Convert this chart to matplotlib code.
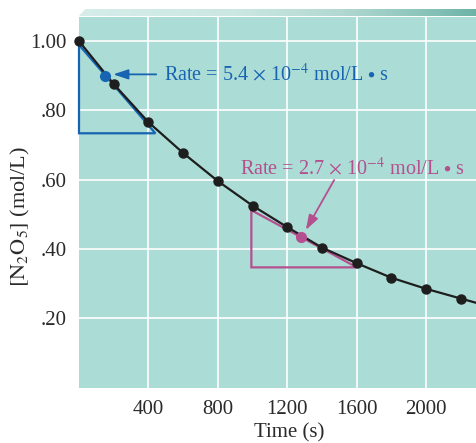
import numpy as np
import matplotlib
matplotlib.use("Agg")
import matplotlib.pyplot as plt
from matplotlib.colors import LinearSegmentedColormap
from matplotlib.patches import Polygon

plt.rcParams['font.family'] = ['Liberation Serif', 'DejaVu Serif']
plt.rcParams['mathtext.fontset'] = 'stix'

# ---- data ----
time_s = [0, 200, 400, 600, 800, 1000, 1200, 1400, 1600, 1800, 2000, 2200]
conc = [1.00, 0.876, 0.766, 0.677, 0.596, 0.525, 0.463, 0.404, 0.359, 0.317, 0.285, 0.257]
curve_end_t = 2300
curve_end_c = 0.243

x_ticks = [400, 800, 1200, 1600, 2000]
x_ticklabels = ['400', '800', '1200', '1600', '2000']
y_ticks = [0.20, 0.40, 0.60, 0.80, 1.00]
y_ticklabels = ['.20', '.40', '.60', '.80', '1.00']

# tangent 1 (blue)
tan1_point = (148, 0.900)
tan1_top = (0, 0.989)
tan1_right = (440, 0.734)
rate1_label = r'Rate = 5.4 $\times$ 10$^{-4}$ mol/L $\bullet$ s'
# tangent 2 (magenta)
tan2_point = (1281, 0.434)
tan2_top = (993, 0.512)
tan2_right = (1601, 0.347)
rate2_label = r'Rate = 2.7 $\times$ 10$^{-4}$ mol/L $\bullet$ s'

BLUE = '#1765b2'
MAG = '#b4508e'
TEAL = '#acdcd6'
TXT = '#2a2a2a'

fig = plt.figure(figsize=(4.77, 4.43), dpi=100)
ax = fig.add_axes([79/477, 1-387.6/443, 1-79/477, (387.6-17)/443])
ax.set_facecolor(TEAL)
ax.set_xlim(0, 2293)
ax.set_ylim(0, 1.0696)
for s in ax.spines.values():
    s.set_visible(False)
ax.set_xticks(x_ticks)
ax.set_xticklabels(x_ticklabels)
ax.set_yticks(y_ticks)
ax.set_yticklabels(y_ticklabels)
ax.tick_params(length=0, labelsize=15, colors=TXT, pad=9)
ax.tick_params(axis='x', pad=9)
ax.grid(True, color='white', linewidth=1.2)
ax.set_axisbelow(True)

# blue triangle
ax.plot([tan1_top[0], tan1_top[0], tan1_right[0], tan1_top[0]],
        [tan1_top[1], tan1_right[1], tan1_right[1], tan1_top[1]],
        color=BLUE, lw=1.6, zorder=3, solid_joinstyle='miter', clip_on=False)
# magenta triangle
ax.plot([tan2_top[0], tan2_top[0], tan2_right[0], tan2_top[0]],
        [tan2_top[1], tan2_right[1], tan2_right[1], tan2_top[1]],
        color=MAG, lw=1.6, zorder=3, solid_joinstyle='miter')

# curve
ax.plot(time_s + [curve_end_t], conc + [curve_end_c], color='#1e1e1e', lw=1.6, zorder=4,
        clip_on=True)
ax.plot(time_s, conc, 'o', color='#1e1e1e', ms=6.5, zorder=5, clip_on=False)

ax.plot(*tan1_point, 'o', color=BLUE, ms=7, zorder=6)
ax.plot(*tan2_point, 'o', color=MAG, ms=7, zorder=6)

# annotations
ax.annotate('', xy=(197, 0.904), xytext=(445, 0.904),
            arrowprops=dict(arrowstyle='-|>,head_length=0.9,head_width=0.3',
                            color=BLUE, lw=1.3, shrinkA=0, shrinkB=0), zorder=7)
ax.text(492, 0.885, rate1_label, color=BLUE, fontsize=14.5, va='baseline', ha='left')

ax.annotate('', xy=(1307, 0.455), xytext=(1470, 0.599),
            arrowprops=dict(arrowstyle='-|>,head_length=0.9,head_width=0.3',
                            color=MAG, lw=1.3, shrinkA=0, shrinkB=0), zorder=7)
ax.text(929, 0.6136, rate2_label, color=MAG, fontsize=14.5, va='baseline', ha='left')

ax.set_xlabel('Time (s)', fontsize=15, color=TXT)
ax.xaxis.set_label_coords(0.528, -0.097)
ax.set_ylabel(r'$\left[\mathrm{N_2O_5}\right]$ (mol/L)', fontsize=16, color=TXT)
ax.yaxis.set_label_coords(-0.118, 0.463)

# top gradient band
bax = fig.add_axes([79/477, 1-16/443, 1-79/477, 7/443])
bax.set_xlim(0, 1)
bax.set_ylim(0, 1)
bax.axis('off')
cmap = LinearSegmentedColormap.from_list('band', [
    (0.0, '#d6edea'), (0.4, '#cbe7e2'), (0.65, '#b3d9d2'), (0.85, '#8ec6bc'), (1.0, '#6cb3a6')])
grad = np.linspace(0, 1, 256)[None, :]
im = bax.imshow(grad, aspect='auto', cmap=cmap, extent=[0, 1, 0, 1])
clip = Polygon([[0, 0], [0.016, 1], [1, 1], [1, 0]], closed=True, transform=bax.transData)
im.set_clip_path(clip)

fig.savefig('out.png', dpi=100)
